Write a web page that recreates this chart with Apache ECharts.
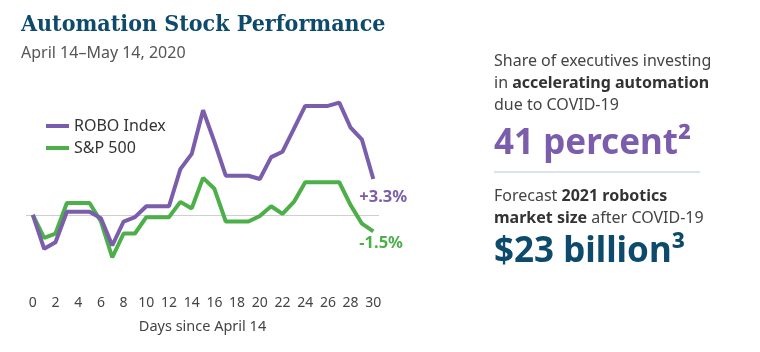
<!DOCTYPE html>
<html>
<head>
<meta charset="utf-8">
<script src="https://cdn.jsdelivr.net/npm/echarts@6/dist/echarts.min.js"></script>
<style>
	html, body {margin:0; padding:0; background:#fff;}
	#chart {width:760px; height:352px;}
</style>
</head>
<body>
<div id="chart"></div>
<script>
// days since April 14
var days = [0,1,2,3,4,5,6,7,8,9,10,11,12,13,14,15,16,17,18,19,20,21,22,23,24,25,26,27,28,29,30];
var tickDays = [0,2,4,6,8,10,12,14,16,18,20,22,24,26,28,30];
// % change since April 14
var roboIndex = [0,-3.1,-2.5,0.3,0.3,0.3,-0.3,-2.8,-0.6,-0.2,0.8,0.8,0.8,4.2,5.6,9.6,6.7,3.6,3.6,3.6,3.3,5.3,5.8,7.9,10.0,10.0,10.0,10.3,8.0,6.9,3.3];
var sp500 = [0,-2.1,-1.7,1.1,1.1,1.1,-0.6,-3.9,-1.7,-1.7,-0.2,-0.2,-0.2,1.2,0.6,3.4,2.4,-0.6,-0.6,-0.6,-0.1,0.8,0.1,1.2,3.0,3.0,3.0,3.0,0.9,-0.8,-1.5];
var seriesNames = ['ROBO Index', 'S&P 500'];
var endLabels = ['+3.3%', '-1.5%'];

var PURPLE = '#7a5dab', GREEN = '#4caf48', NAVY = '#0d4a6c';
var FONT = '"Noto Sans", sans-serif';

function toPoints(vals){
	return vals.map(function(v, i){ return [days[i], v]; });
}

var myChart = echarts.init(document.getElementById('chart'), null, {renderer:'canvas'});
var options = {
	animation:false,
	title : {
		text:'Automation Stock Performance',
		subtext:'April 14\u2013May 14, 2020',
		left:16, top:9, itemGap:8,
		textStyle:{fontFamily:'"DejaVu Serif Condensed", "Liberation Serif", serif', fontWeight:'bold', fontSize:23, color:NAVY},
		subtextStyle:{fontFamily:FONT, fontSize:16, color:'#555'}
	},
	legend : {
		orient:'vertical', left:41, top:113, itemGap:6,
		icon:'rect', itemWidth:23, itemHeight:4,
		textStyle:{fontFamily:FONT, fontSize:16, color:'#333'},
		data:seriesNames
	},
	grid : {left:26, right:381, top:95, bottom:82.5},
	xAxis : {
		type:'value', min:-0.6, max:30.5,
		axisLine:{show:false}, axisTick:{show:false}, splitLine:{show:false},
		axisLabel:{customValues:tickDays, margin:27, fontFamily:FONT, fontSize:14, color:'#444'},
		name:'Days since April 14', nameLocation:'middle', nameGap:50,
		nameTextStyle:{fontFamily:FONT, fontSize:14.5, color:'#444'}
	},
	yAxis : {
		type:'value', min:-5, max:11, show:false
	},
	series : [
		{
			name:seriesNames[1], type:'line', symbol:'none', z:2,
			lineStyle:{width:4, color:GREEN}, itemStyle:{color:GREEN},
			endLabel:{show:true, formatter:endLabels[1], offset:[-22, 12],
				color:GREEN, fontSize:16.5, fontWeight:'bold', fontFamily:FONT},
			data:toPoints(sp500)
		},
		{
			name:seriesNames[0], type:'line', symbol:'none', z:3,
			lineStyle:{width:4, color:PURPLE}, itemStyle:{color:PURPLE},
			endLabel:{show:true, formatter:endLabels[0], offset:[-22, 18],
				color:PURPLE, fontSize:16.5, fontWeight:'bold', fontFamily:FONT},
			data:toPoints(roboIndex),
			markLine:{
				silent:true, symbol:'none', label:{show:false}, z:1,
				lineStyle:{color:'#cfcfcf', width:1, type:'solid'},
				data:[{yAxis:0}]
			}
		}
	],
	graphic : [
		{type:'text', left:494, top:50, style:{
			text:'Share of executives investing\n{b|in }{bb|accelerating automation}\n{b|due to COVID-19}',
			font:'16px ' + FONT, fill:'#444', lineHeight:22,
			rich:{b:{fontSize:16, fontFamily:FONT, fill:'#444', lineHeight:22}, bb:{fontSize:16, fontFamily:FONT, fontWeight:'bold', fill:'#333', lineHeight:22}}
		}},
		{type:'text', left:494, top:127, style:{text:'41 percent\u00b2', font:'bold 35px ' + FONT, fill:PURPLE}},
		{type:'line', shape:{x1:494, y1:172, x2:700, y2:172}, style:{stroke:'#b8c6d4', lineWidth:1}},
		{type:'text', left:494, top:185, style:{
			text:'{a|Forecast }{bb|2021 robotics}\n{bb|market size}{a| after COVID-19}',
			font:'16px ' + FONT, fill:'#444', lineHeight:22,
			rich:{a:{fontSize:16, fontFamily:FONT, fill:'#444', lineHeight:22}, bb:{fontSize:16, fontFamily:FONT, fontWeight:'bold', fill:'#333', lineHeight:22}}
		}},
		{type:'text', left:494, top:235, style:{text:'$23 billion\u00b3', font:'bold 35px ' + FONT, fill:NAVY}}
	]
};
myChart.setOption(options);
</script>
</body>
</html>
